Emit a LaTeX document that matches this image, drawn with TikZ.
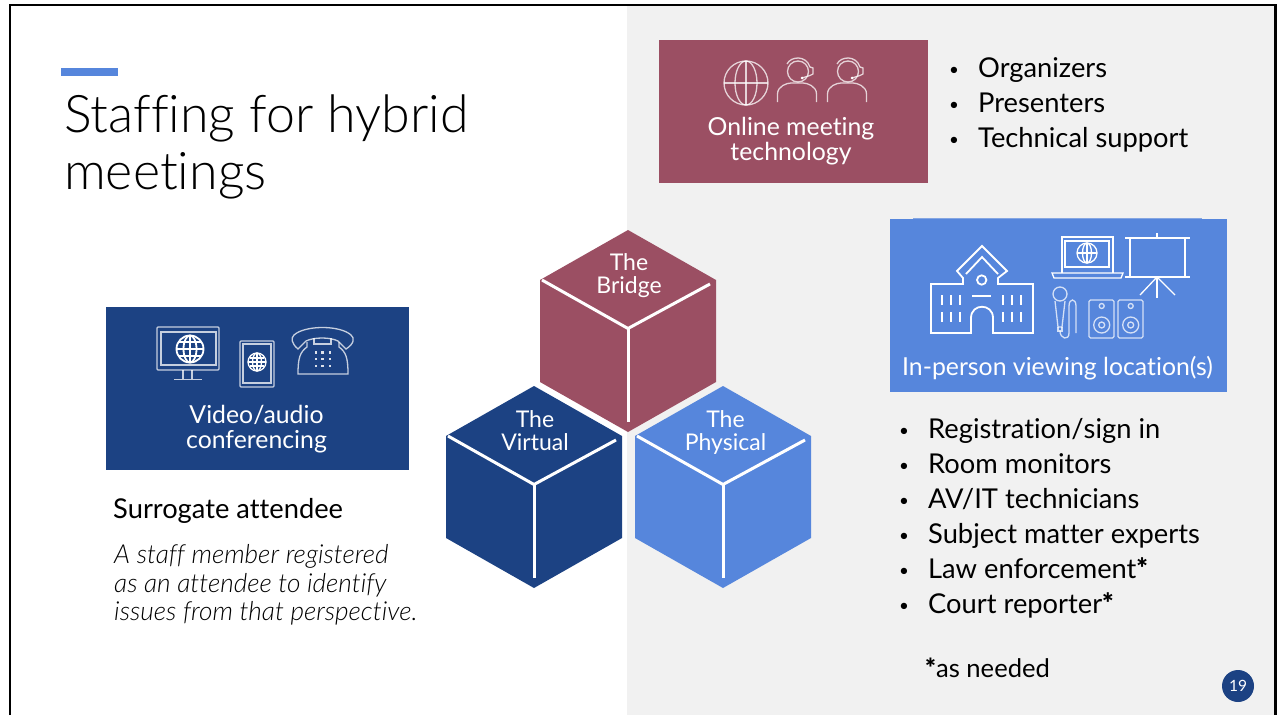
\documentclass[tikz,border=0pt]{standalone}
\usepackage{fontspec}
\setmainfont{Lato}[Ligatures=NoCommon]
\newfontfamily\lightfont{Lato Light}[Ligatures=NoCommon]
\newfontfamily\heavyfont{Lato Black}
\definecolor{rose}{HTML}{9B4F63}
\definecolor{navy}{HTML}{1C4283}
\definecolor{sky}{HTML}{5686DC}
\definecolor{pane}{HTML}{F1F1F1}
\newcommand{\bul}{\makebox[29pt][l]{\raisebox{1.5pt}{\fontsize{17}{17}\selectfont•}}}
\newcommand{\hstar}{{\heavyfont *}}
\tikzset{
  x=1pt,y=-1pt,
  ttl/.style={anchor=base west,font=\lightfont\fontsize{51.9}{52}\selectfont,inner sep=0},
  body/.style={anchor=base west,font=\fontsize{27.3}{27}\selectfont,inner sep=0},
  note/.style={anchor=base west,font=\fontsize{25.6}{26}\selectfont,inner sep=0},
  ital/.style={anchor=base west,font=\lightfont\fontsize{26.2}{26}\selectfont\itshape,inner sep=0},
  cubelabel/.style={anchor=base,align=center,text=white,font=\fontsize{23}{23}\selectfont,inner sep=0},
  boxlabel/.style={anchor=base,align=center,text=white,font=\fontsize{24.8}{25}\selectfont,inner sep=0},
  iconw/.style={draw=white,line width=1.3pt,fill=none},
  iconr/.style={draw=white,draw opacity=0.75,line width=1.3pt,fill=none},
  iconthick/.style={draw=white,line width=1.8pt,fill=none},
  cubeline/.style={white,line width=3pt},
}
\newcommand{\cube}[3]{% cx, top y, colour
  \fill[#3] (#1,#2) -- ++(88,50) -- ++(0,102) -- ++(-88,50) -- ++(-88,-50) -- ++(0,-102) -- cycle;
  \draw[cubeline] (#1-86,#2+50) -- (#1,#2+98.5) -- (#1+82,#2+54);
  \draw[cubeline] (#1,#2+98.5) -- (#1,#2+192);
}
\newcommand{\agent}[1]{% cx of the figure
  \draw[iconr] (#1-19.5,102) -- (#1-19.5,94) .. controls (#1-19.5,86) and (#1-10,83) .. (#1-6,83)
     -- (#1+6,83) .. controls (#1+10,83) and (#1+19.5,86) .. (#1+19.5,94) -- (#1+19.5,102);
  \draw[iconr] (#1+1,71.5) circle (10.5);
  \draw[iconr] (#1-10,64) .. controls (#1-6,56) and (#1+9,55) .. (#1+13,67) -- (#1+16,68) -- (#1+16,74) -- (#1+13,75.5) -- (#1+5,78);
  \fill[white] (#1+5,78) circle (1.5);
}
\begin{document}
\begin{tikzpicture}
\useasboundingbox (0,0) rectangle (1277,715);
\fill[white] (0,0) rectangle (1277,715);
\fill[pane] (627,4) rectangle (1274,715);
\draw[black,line width=2.6pt] (10,715) -- (10,5) -- (1275.5,5) -- (1275.5,715);
\fill[sky] (61,68) rectangle (118,76);
\node[ttl] (title1) at (64,132) {Staffing for hybrid};
\node[ttl] (title2) at (64,189) {meetings};

% cubes
\cube{628}{230}{rose}
\cube{534}{386}{navy}
\cube{723}{386}{sky}
\node[cubelabel] (tb) at (629,293.5) {The\\Bridge};
\node[cubelabel] (tv) at (535,450.5) {The\\Virtual};
\node[cubelabel] (tp) at (725.5,450.5) {The\\Physical};

% Online meeting box
\fill[rose] (659,40) rectangle (928,183);
\begin{scope}[iconr]
  \draw (746,83) circle (22);
  \draw (746,83) ellipse (11 and 22);
  \draw (724,83) -- (768,83);
  \draw (746,61) -- (746,105);
\end{scope}
\agent{797}
\agent{847}
\node[boxlabel] (online) at (791,160.5) {Online meeting\\technology};
\node[body] (o1) at (949,77) {\bul Organizers};
\node[body] (o2) at (949,112) {\bul Presenters};
\node[body] (o3) at (949,147) {\bul Technical support};

% In person box
\fill[sky] (890,219) rectangle (1227,392);
\fill[sky!70!pane] (913,218) rectangle (1202,219);
\begin{scope}[iconthick]
  % school
  \draw (931,333) -- (931,284) -- (963,284) -- (963,278) -- (957,271) -- (982,246) -- (1007,271) -- (998,278) -- (998,284) -- (1033,284) -- (1033,333) -- (993,333) -- (993,318) .. controls (993,303) and (971,303) .. (971,318) -- (971,333) -- cycle;
  \draw (966,274) -- (982,257) -- (998,274);
  \draw (981.7,280) circle (4.7);
  \draw (972,296) -- (991,296);
  \foreach \i in {942,951,960,1003,1012,1021}{
    \draw (\i,295) -- (\i,305);
    \draw (\i,312) -- (\i,322);
  }
\end{scope}
\begin{scope}[iconw]
  % laptop
  \draw (1062,273) -- (1062,237) -- (1113,237) -- (1113,273);
  \draw (1065,241) rectangle (1109,267);
  \draw (1052,273) -- (1123,273) -- (1121,278) -- (1054,278) -- cycle;
  \draw (1087,253) circle (10);
  \draw (1087,253) ellipse (4.5 and 10);
  \draw (1077,253) -- (1097,253);
  \draw (1087,243) -- (1087,263);
  % projection screen
  \draw (1125,238) -- (1190,238);
  \draw (1125,277) -- (1190,277);
  \draw (1130,238) -- (1130,277);
  \draw (1185,238) -- (1185,277);
  \draw (1157,233) -- (1157,238);
  \draw (1157,277) -- (1157,298);
  \draw (1157,277) -- (1140,295);
  \draw (1157,277) -- (1175,295);
\end{scope}
\begin{scope}[iconr]
  % mic
  \draw (1060,294) circle (7);
  \draw (1055,301) -- (1058,327) -- (1062,327) -- (1065,301);
  \draw (1058,327) -- (1058,331) -- (1062,331) -- (1062,327);
  \draw (1060,331) .. controls (1060,339) and (1069,341) .. (1069,333) -- (1069,306) .. controls (1069,298) and (1076,298) .. (1076,306) -- (1076,333);
  % speakers
  \draw[rounded corners=1.5pt] (1089,300) rectangle (1114,338);
  \draw[rounded corners=1.5pt] (1118,300) rectangle (1143,338);
  \draw (1101.7,306) circle (2.5);
  \draw (1101.7,325) circle (8);
  \draw (1101.7,325) circle (3);
  \draw (1130.7,306) circle (2.5);
  \draw (1130.7,325) circle (8);
  \draw (1130.7,325) circle (3);
\end{scope}
\node[boxlabel] (inperson) at (1057.5,375) {In-person viewing location(s)};
\foreach \n/\t/\y in {p1/Registration\slash sign in/438, p2/Room monitors/473, p3/AV\slash IT technicians/508, p4/Subject matter experts/543, p5/Law enforcement\hstar/578, p6/Court reporter\hstar/613}{
  \node[body] (\n) at (899,\y) {\bul \t};
}
\node[note] (need) at (925,677) {\hstar as needed};

% Video box
\fill[navy] (106,307) rectangle (409,470);
\begin{scope}[iconr]
  \draw[rounded corners=1pt] (157,327) rectangle (219,370);
  \draw (161,332) rectangle (216,365);
  \draw (183,370) -- (183,379);
  \draw (192,370) -- (192,379);
  \draw (174,379.5) -- (202,379.5);
  \draw[rounded corners=1pt] (240,341) rectangle (274,387);
  \draw (243,344) rectangle (271,383);
\end{scope}
\begin{scope}[iconthick]
  \draw (190,349) circle (13.5);
  \draw (190,349) ellipse (6.5 and 13.5);
  \draw (176.5,349) -- (203.5,349);
  \draw (190,335.5) -- (190,362.5);
  \draw (179,342) -- (201,342);
  \draw (179,356) -- (201,356);
\end{scope}
\begin{scope}[iconw]
  \draw (257,362) circle (9);
  \draw (257,362) ellipse (4.5 and 9);
  \draw (248,362) -- (266,362);
  \draw (257,353) -- (257,371);
  \draw (250,358) -- (264,358);
  \draw (250,366) -- (264,366);
\end{scope}
\begin{scope}[iconr]
  % phone
  \draw (298,349) .. controls (291,343) and (291,338) .. (294,335) .. controls (305,325) and (340,325) .. (351,335) .. controls (355,338) and (354,344) .. (346,349) -- (338,341) .. controls (330,337) and (314,337) .. (306,341) -- cycle;
  \draw (307,342) -- (307,347) .. controls (300,352) and (298,358) .. (298,374) -- (348,374) .. controls (348,358) and (346,352) .. (339,347) -- (339,342);
  \draw (314,338) -- (314,344) -- (331,344) -- (331,338);
\end{scope}
\foreach \a in {316,322.5,330}{\foreach \b in {352.7,359,366}{\fill[white,opacity=0.85] (\a-1.4,\b-1.4) rectangle (\a+1.4,\b+1.4);}}
\node[boxlabel] (video) at (256.5,448.5) {Video/audio\\conferencing};
\node[body] (sa) at (113,518) {Surrogate attendee};
\node[ital] (i1) at (114,563) {A staff member registered};
\node[ital] (i2) at (114,592) {as an attendee to identify};
\node[ital] (i3) at (114,620) {issues from that perspective.};

% page number
\node[circle,fill=navy,minimum size=32pt,inner sep=0,text=white,font=\fontsize{15.5}{15.5}\selectfont] (pg) at (1238,686) {19};
\end{tikzpicture}
\end{document}
